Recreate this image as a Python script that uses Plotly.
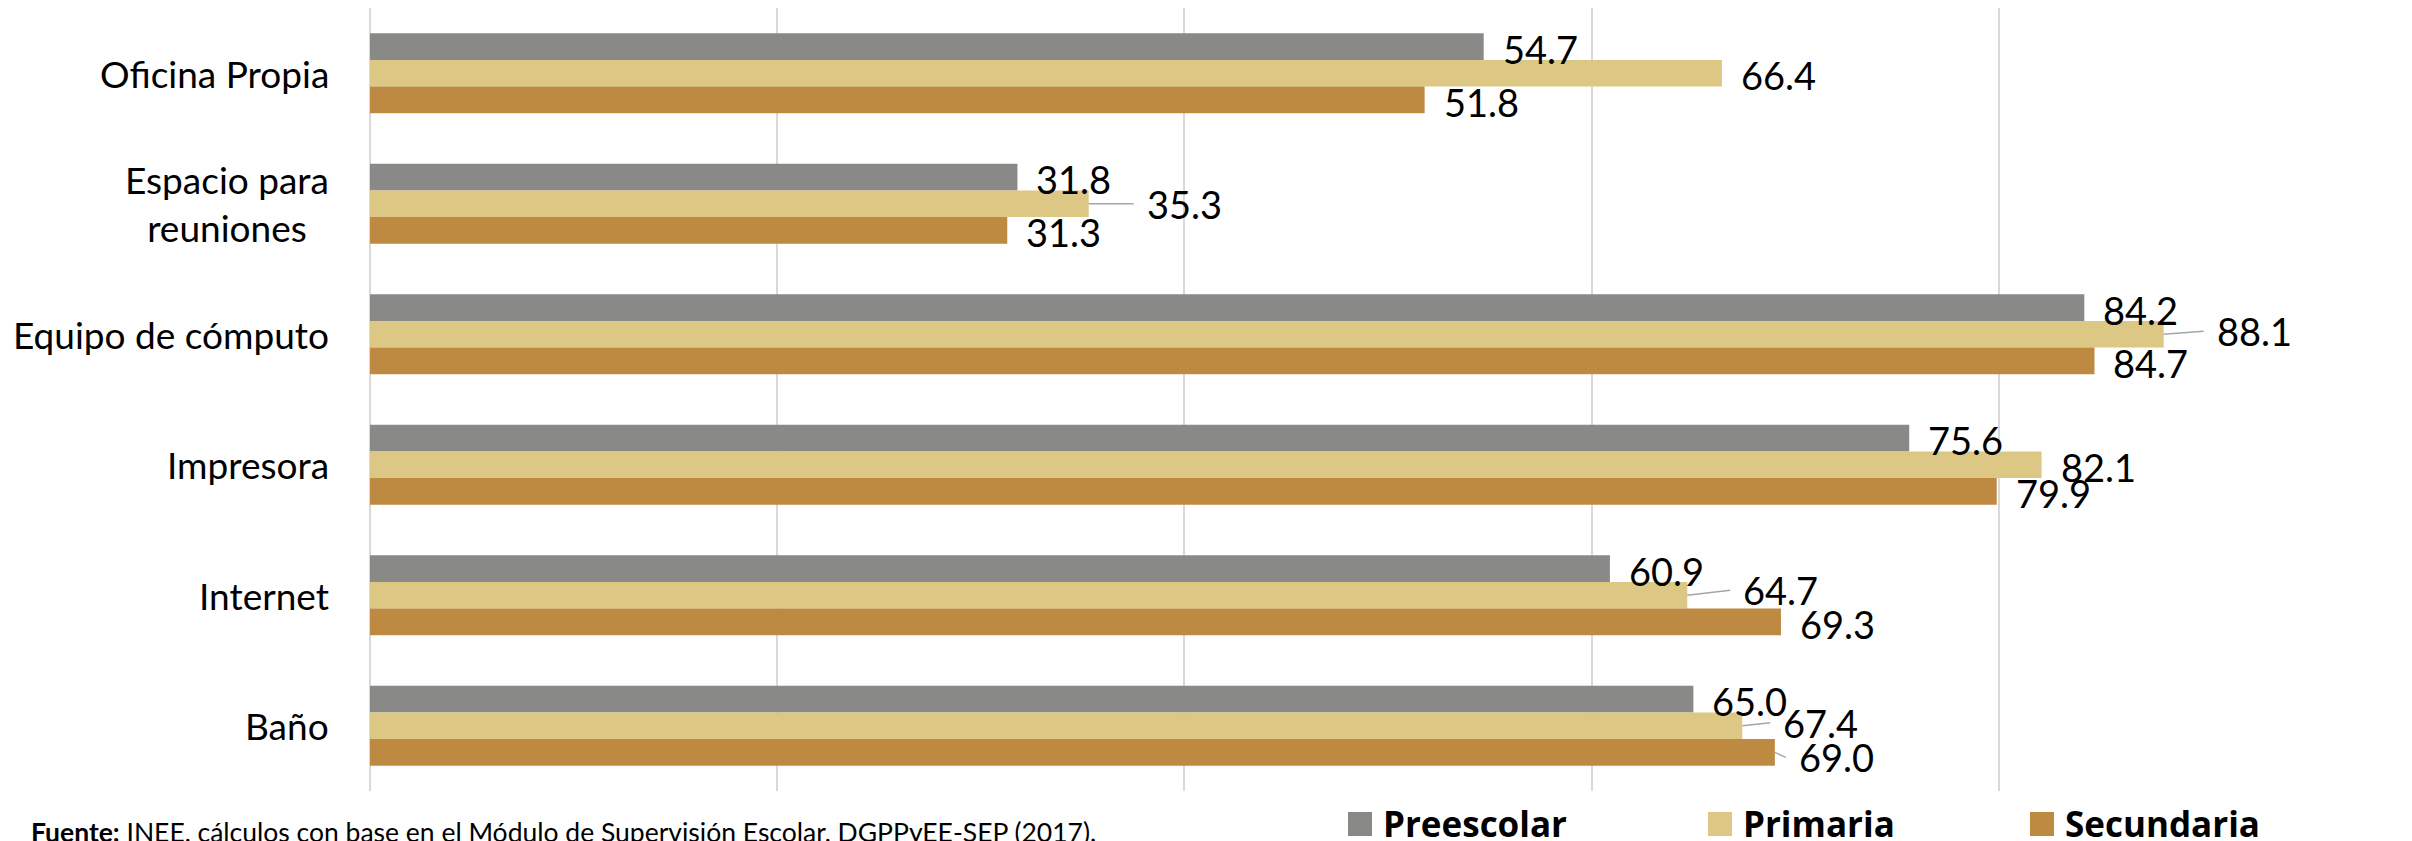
import plotly.graph_objects as go

# data (percent)
categories = ["Oficina Propia", "Espacio para<br>reuniones", "Equipo de cómputo",
              "Impresora", "Internet", "Baño"]
series_names = ["Preescolar", "Primaria", "Secundaria"]
preescolar = [54.7, 31.8, 84.2, 75.6, 60.9, 65.0]
primaria = [66.4, 35.3, 88.1, 82.1, 64.7, 67.4]
secundaria = [51.8, 31.3, 84.7, 79.9, 69.3, 69.0]
x_ticks = [0, 20, 40, 60, 80, 100]
source_note = ("<b>Fuente:</b> INEE, cálculos con base en el Módulo de "
               "Supervisión Escolar, DGPPyEE-SEP (2017).")

colors = ["#898987", "#DCC785", "#BE8A42"]
series_values = [preescolar, primaria, secundaria]

# layout numbers (pixels). The page body has an 8px margin, so the figure
# is made 8px smaller and everything placed in page coordinates minus 8.
OFF = 8
W, H = 2412 - OFF, 841 - OFF
margin = dict(l=362, r=6, t=0, b=50)
bargap = 0.387
plot_w = W - margin["l"] - margin["r"]
plot_h = H - margin["t"] - margin["b"]
band_px = plot_h / len(categories)
bar_px = band_px * (1 - bargap) / len(series_names)
font_family = "Lato, 'Liberation Sans', Arial, sans-serif"
legend_font = "'Open Sans', Lato, Arial, sans-serif"


def px_x(p):
    # page pixel -> paper x
    return (p - OFF - margin["l"]) / plot_w


def px_y(p):
    # page pixel -> paper y
    return (margin["t"] + plot_h - (p - OFF)) / plot_h


# labels that Excel moved off the bar end and tied back with a leader line
# (series index, category index) -> (dx, dy) in pixels
leaders = {(1, 1): (45, 0), (1, 2): (40, -3), (1, 4): (43, -5),
           (1, 5): (28, -3), (2, 5): (11, 5)}

fig = go.Figure()
for name, vals, col in zip(series_names, series_values, colors):
    fig.add_trace(go.Bar(
        y=categories, x=vals, name=name, orientation="h",
        marker=dict(color=col, line=dict(width=0)),
        hovertemplate="%{y}: %{x:.1f}<extra>" + name + "</extra>",
    ))

# data labels
for i, vals in enumerate(series_values):
    yshift = (1 - i) * bar_px
    for j, v in enumerate(vals):
        if (i, j) in leaders:
            dx, dy = leaders[(i, j)]
            fig.add_annotation(
                x=v, y=categories[j], xref="x", yref="y", yshift=yshift,
                text=f"{v:.1f}", showarrow=True, arrowhead=0, arrowwidth=1.5,
                arrowcolor="#A6A6A6", ax=dx, ay=dy, xanchor="left",
                yanchor="middle", borderpad=12,
                font=dict(family=font_family, size=38, color="#000000"),
            )
        else:
            fig.add_annotation(
                x=v, y=categories[j], xref="x", yref="y",
                yshift=yshift - 2, xshift=17,
                text=f"{v:.1f}", showarrow=False, xanchor="left",
                yanchor="middle",
                font=dict(family=font_family, size=38, color="#000000"),
            )

# category labels (centered multi-line, like the original)
for c in categories:
    fig.add_annotation(
        x=0, y=c, xref="paper", yref="y", xanchor="right", yanchor="middle",
        xshift=-39, text=c, showarrow=False, align="center",
        font=dict(family=font_family, size=37, color="#000000"),
    )

# source note
fig.add_annotation(
    x=px_x(29), y=px_y(832), xref="paper", yref="paper", xanchor="left",
    yanchor="middle", text=source_note, showarrow=False, align="left",
    font=dict(family=font_family, size=26.5, color="#000000"),
)

# legend drawn by hand: big squares like the original
legend_left = [1348, 1708, 2030]
for name, col, left in zip(series_names, colors, legend_left):
    fig.add_shape(
        type="rect", xref="paper", yref="paper",
        x0=px_x(left), x1=px_x(left + 24), y0=px_y(836), y1=px_y(812),
        fillcolor=col, line=dict(width=0),
    )
    fig.add_annotation(
        x=px_x(left + 33), y=px_y(823), xref="paper", yref="paper",
        xanchor="left", yanchor="middle", text=f"<b>{name}</b>",
        showarrow=False,
        font=dict(family=legend_font, size=35, color="#000000"),
    )

fig.update_layout(
    width=W, height=H, margin=margin,
    barmode="group", bargap=bargap, bargroupgap=0,
    plot_bgcolor="white", paper_bgcolor="white",
    font=dict(family=font_family, color="#000000"),
    showlegend=False,
    xaxis=dict(
        range=[0, 100], tickvals=x_ticks, showticklabels=False,
        showgrid=True, gridcolor="#D9D9D9", gridwidth=2,
        zeroline=True, zerolinecolor="#D9D9D9", zerolinewidth=2,
        showline=False, fixedrange=True,
    ),
    yaxis=dict(
        type="category", categoryorder="array", categoryarray=categories,
        autorange="reversed", showticklabels=False, showgrid=False,
        zeroline=False, showline=False, fixedrange=True,
    ),
)

fig.write_html("out.html")
